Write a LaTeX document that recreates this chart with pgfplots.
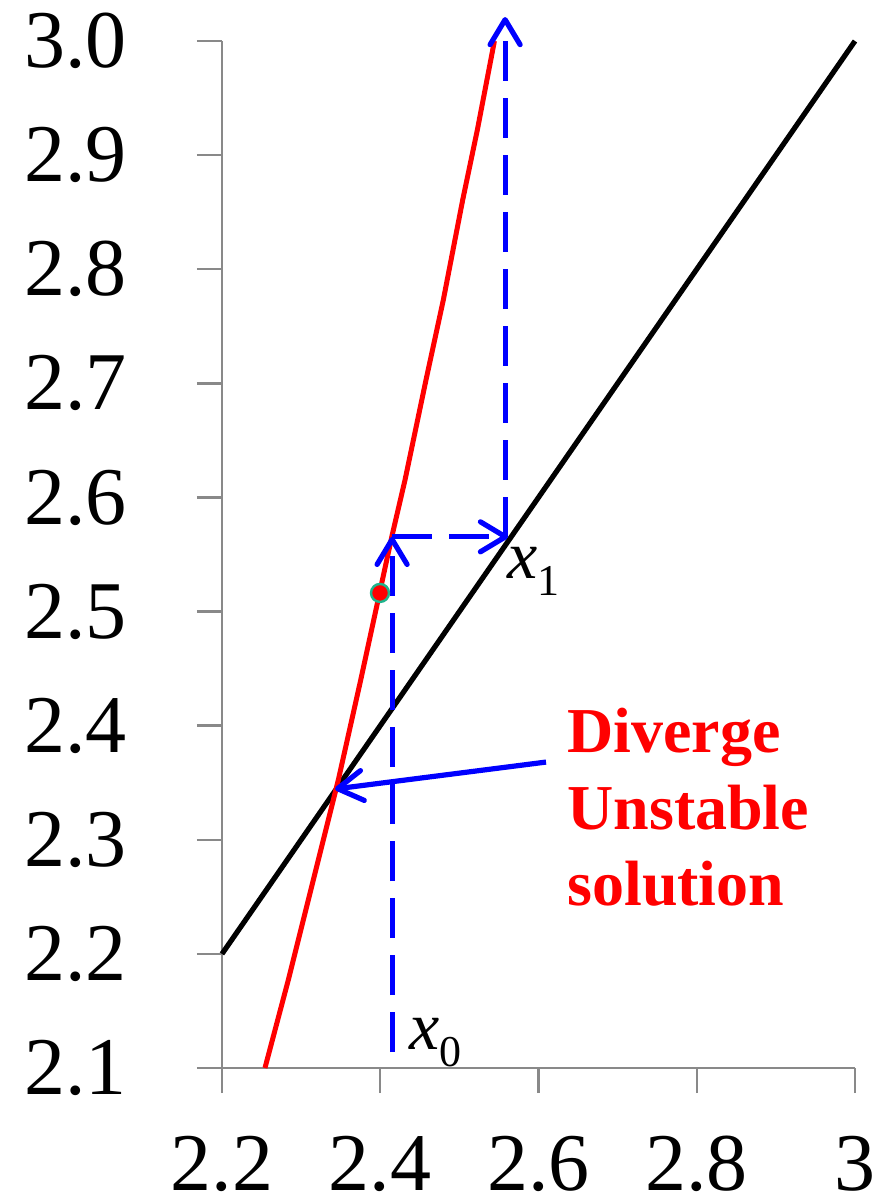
\documentclass[border=0pt]{standalone}
\usepackage{fontspec}
\setmainfont{Liberation Serif}
\newfontfamily\tnr{Liberation Serif}
\usepackage{pgfplots}
\pgfplotsset{compat=1.18}
\usetikzlibrary{arrows.meta}

\definecolor{axgray}{RGB}{137,137,137}
\definecolor{dotedge}{RGB}{30,180,140}

% iteration function g(x), read point by point
\pgfplotstableread{
x       y
2.2543  2.1000
2.2838  2.1771
2.3154  2.2647
2.3470  2.3524
2.3753  2.4400
2.4148  2.5662
2.4313  2.6153
2.4578  2.7029
2.4797  2.7730
2.5042  2.8607
2.5227  2.9220
2.5443  3.0000
}\gcurve

\tikzset{
  barb/.style={-{Straight Barb[round,length=12.5pt,width=15pt]}},
  iterstep/.style={blue, line width=2.6pt, dash pattern=on 20pt off 8.5pt, barb},
}

\begin{document}
\begin{tikzpicture}
\path[use as bounding box] (-111pt,-67pt) rectangle (330.5pt,534pt);
\begin{axis}[
  at={(0pt,0pt)}, anchor=south west,
  scale only axis, width=316.5pt, height=513.5pt,
  xmin=2.2, xmax=3.0, ymin=2.1, ymax=3.0,
  axis lines*=left,
  clip=false,
  axis line style={axgray, line width=1.2pt},
  tick style={axgray, line width=1.2pt},
  major tick length=12.5pt, tick align=outside,
  xtick={2.2,2.4,2.6,2.8,3.0},
  xticklabels={2.2,2.4,2.6,2.8,3},
  ytick={2.1,2.2,2.3,2.4,2.5,2.6,2.7,2.8,2.9,3.0},
  yticklabels={2.1,2.2,2.3,2.4,2.5,2.6,2.7,2.8,2.9,3.0},
  ticklabel style={font=\tnr\fontsize{41}{41}\selectfont, text=black},
  yticklabel style={anchor=east, inner sep=0pt, xshift=-35pt},
  xticklabel style={anchor=north, inner sep=0pt, yshift=-21.5pt},
]
% y = x
\addplot[black, line width=2.6pt] coordinates {(2.2,2.2) (3.0,3.0)};
% g(x)
\addplot[red, line width=2.5pt] table[x=x, y=y] {\gcurve};

% iteration steps
\addplot[iterstep] coordinates {(2.415,2.114) (2.415,2.5655)};
\addplot[iterstep] coordinates {(2.415,2.5655) (2.5615,2.5655)};
\addplot[iterstep] coordinates {(2.5578,2.5655) (2.5578,3.021)};

% pointer to the fixed point
\addplot[blue, line width=2.6pt, barb] coordinates {(2.6095,2.3681) (2.3428,2.3445)};

% starting guess
\addplot[only marks, mark=*, mark size=4.5pt,
  mark options={fill=red, draw=dotedge, line width=1.2pt}]
  coordinates {(2.3997,2.5163)};

\node[anchor=base west, inner sep=0pt] at (axis cs:2.4363,2.1158)
  {{\tnr\fontsize{34}{34}\selectfont\itshape x}\raisebox{-8.5pt}{\tnr\fontsize{22}{22}\selectfont 0}};
\node[anchor=base west, inner sep=0pt] at (axis cs:2.5602,2.5294)
  {{\tnr\fontsize{34}{34}\selectfont\itshape x}\raisebox{-8.5pt}{\tnr\fontsize{22}{22}\selectfont 1}};

\node[anchor=base west, inner sep=0pt, text=red, font=\tnr\fontsize{32}{32}\selectfont\bfseries]
  at (axis cs:2.636,2.3769) {Diverge};
\node[anchor=base west, inner sep=0pt, text=red, font=\tnr\fontsize{32}{32}\selectfont\bfseries]
  at (axis cs:2.636,2.3094) {Unstable};
\node[anchor=base west, inner sep=0pt, text=red, font=\tnr\fontsize{32}{32}\selectfont\bfseries]
  at (axis cs:2.636,2.2428) {solution};
\end{axis}
\end{tikzpicture}
\end{document}
